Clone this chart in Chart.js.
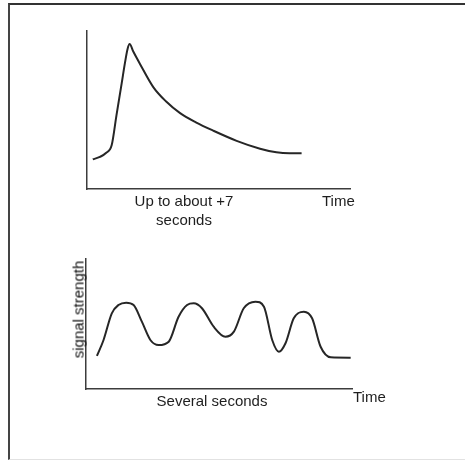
<!DOCTYPE html>
<html>
<head>
<meta charset="utf-8">
<script src="https://cdn.jsdelivr.net/npm/chart.js@4.4.0/dist/chart.umd.min.js"></script>
<style>
  body { margin: 0; background: #fff; font-family: "Liberation Sans", Arial, sans-serif; }
  #page { position: relative; width: 465px; height: 460px; overflow: hidden; }
  #frame { position: absolute; left: 8px; top: 3px; width: 470px; height: 454px;
           border-top: 2px solid #333; border-left: 2px solid #444; border-bottom: 1px solid #e2e2e2; }
  canvas { position: absolute; left: 0; }
  .lbl { position: absolute; font-size: 15px; line-height: 19px; color: #1e1e1e; white-space: nowrap; }
</style>
</head>
<body>
<div id="page">
  <div id="frame"></div>
  <canvas id="topChart" width="465" height="230" style="top:0"></canvas>
  <canvas id="bottomChart" width="465" height="230" style="top:230px"></canvas>
  <div class="lbl" id="topXLabel" style="left:104px; top:191px; width:160px; text-align:center"></div>
  <div class="lbl" id="topTime" style="left:322px; top:191px"></div>
  <div class="lbl" id="bottomXLabel" style="left:142px; top:391px; width:140px; text-align:center"></div>
  <div class="lbl" id="bottomTime" style="left:353px; top:387px"></div>
  <div class="lbl" id="yLabel" style="left:18px; top:300px; width:120px; text-align:center; color:#111; transform:rotate(-90deg); transform-origin:60px 9.5px"></div>
</div>
<script>
// curva in alto: picco rapido e poi discesa lenta (unita' arbitrarie 0..10)
const decayTime   = [0.22, 0.49, 0.72, 0.94, 1.12, 1.32, 1.44, 1.54, 1.62, 1.76, 2.02, 2.52, 3.00, 3.54, 4.14, 4.79, 5.69, 6.58, 7.20, 7.70, 8.16];
const decaySignal = [1.88, 2.03, 2.28, 2.78, 4.66, 6.70, 7.95, 8.85, 9.18, 8.70, 7.90, 6.45, 5.55, 4.80, 4.22, 3.70, 3.05, 2.55, 2.32, 2.26, 2.26];

// curva in basso: quattro onde
const waveTime   = [0.41, 0.66, 0.97, 1.22, 1.51, 1.79, 2.10, 2.42, 2.73, 3.11, 3.48, 3.80, 4.05, 4.36, 4.80, 5.24, 5.56, 5.93, 6.37, 6.69, 7.00, 7.25, 7.50, 7.81, 8.19, 8.50, 8.82, 9.20, 9.95];
const waveSignal = [2.54, 3.77, 5.82, 6.46, 6.64, 6.46, 5.18, 3.77, 3.38, 3.64, 5.56, 6.46, 6.59, 6.21, 4.79, 4.02, 4.41, 6.21, 6.72, 6.33, 3.77, 2.87, 3.52, 5.44, 5.95, 5.44, 3.25, 2.44, 2.41];

const topXLabel = ["Up to about +7", "seconds"];
const bottomXLabel = "Several seconds";
const timeLabel = "Time";
const yLabel = "signal strength";

document.getElementById("topXLabel").innerHTML = topXLabel.join("<br>");
document.getElementById("topTime").innerText = timeLabel;
document.getElementById("bottomXLabel").innerText = bottomXLabel;
document.getElementById("bottomTime").innerText = timeLabel;
document.getElementById("yLabel").innerText = yLabel;

function asPoints(xs, ys) {
    return xs.map((x, i) => ({ x: x, y: ys[i] }));
}

function axis() {
    return {
        type: "linear",
        min: 0,
        max: 10,
        ticks: { display: false },
        grid: { display: true, color: "transparent", drawTicks: false },
        border: { display: true, color: "#3c3c3c", width: 1.5 }
    };
}

function disegna(id, xs, ys, padding) {
    let ctx = document.getElementById(id).getContext("2d");
    return new Chart(ctx, {
        type: "line",
        data: {
            datasets: [{
                data: asPoints(xs, ys),
                borderColor: "#262626",
                borderWidth: 2,
                pointRadius: 0,
                cubicInterpolationMode: "monotone",
                fill: false
            }]
        },
        options: {
            responsive: false,
            animation: false,
            layout: { padding: padding },
            plugins: { legend: { display: false }, tooltip: { enabled: false } },
            scales: { x: axis(), y: axis() }
        }
    });
}

disegna("topChart", decayTime, decaySignal, { left: 87, top: 31, right: 115, bottom: 41 });
disegna("bottomChart", waveTime, waveSignal, { left: 86, top: 29, right: 113, bottom: 71 });
</script>
</body>
</html>
